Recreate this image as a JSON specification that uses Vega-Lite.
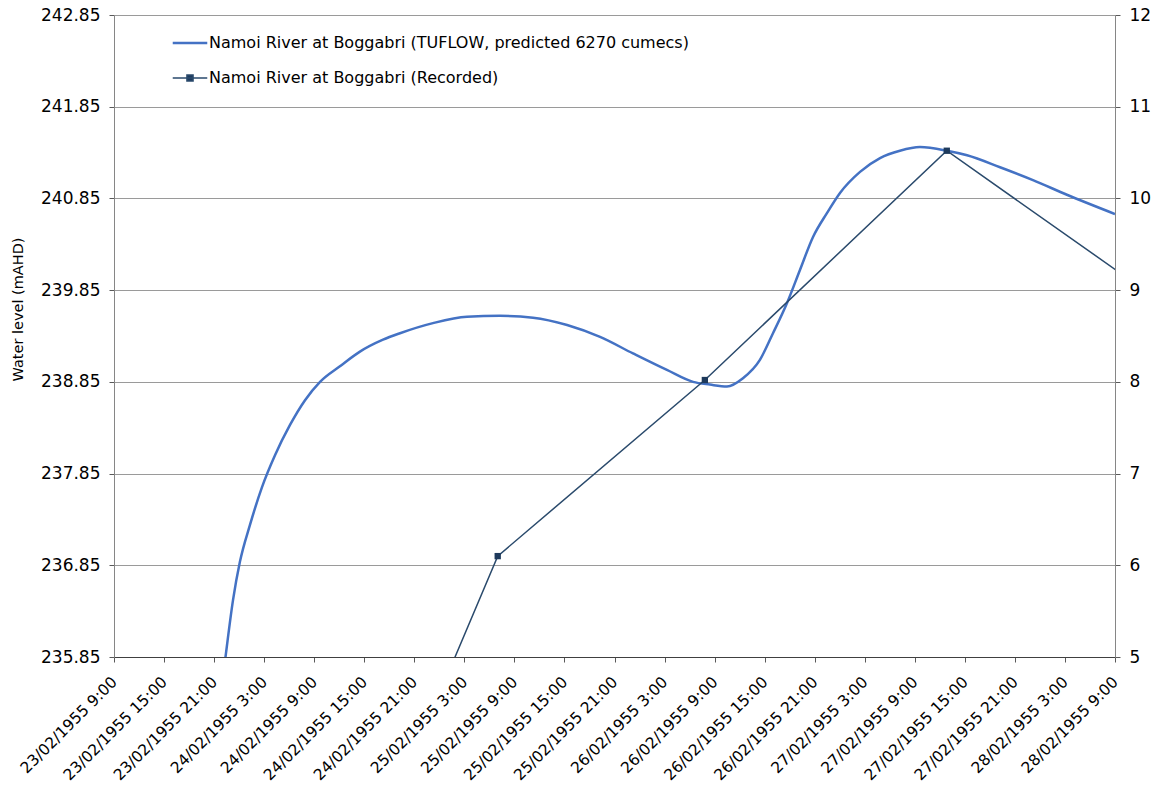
{
  "$schema": "https://vega.github.io/schema/vega-lite/v6.json",
  "width": 1001,
  "height": 642,
  "autosize": "none",
  "padding": {"left": 114, "top": 15, "right": 41, "bottom": 130},
  "background": "white",
  "config": {
    "view": {"stroke": null},
    "font": "DejaVu Sans",
    "axis": {
      "labelFont": "DejaVu Sans",
      "labelColor": "#000000",
      "titleFont": "DejaVu Sans",
      "titleFontWeight": "normal",
      "titleColor": "#000000",
      "domainColor": "#868686",
      "tickColor": "#595959",
      "tickSize": 5,
      "gridColor": "#9a9a9a"
    },
    "axisX": {"labelFontSize": 15.5},
    "axisY": {"labelFontSize": 17, "titleFontSize": 14.5, "labelPadding": 9}
  },
  "datasets": {
    "tuflow": [
      {"time": "1955-02-23T21:00", "level": 234.86, "series": "Namoi River at Boggabri (TUFLOW, predicted 6270 cumecs)"},
      {"time": "1955-02-23T22:22", "level": 235.85, "series": "Namoi River at Boggabri (TUFLOW, predicted 6270 cumecs)"},
      {"time": "1955-02-23T23:16", "level": 236.47, "series": "Namoi River at Boggabri (TUFLOW, predicted 6270 cumecs)"},
      {"time": "1955-02-24T00:06", "level": 236.89, "series": "Namoi River at Boggabri (TUFLOW, predicted 6270 cumecs)"},
      {"time": "1955-02-24T01:18", "level": 237.29, "series": "Namoi River at Boggabri (TUFLOW, predicted 6270 cumecs)"},
      {"time": "1955-02-24T02:44", "level": 237.70, "series": "Namoi River at Boggabri (TUFLOW, predicted 6270 cumecs)"},
      {"time": "1955-02-24T04:18", "level": 238.05, "series": "Namoi River at Boggabri (TUFLOW, predicted 6270 cumecs)"},
      {"time": "1955-02-24T06:06", "level": 238.38, "series": "Namoi River at Boggabri (TUFLOW, predicted 6270 cumecs)"},
      {"time": "1955-02-24T07:54", "level": 238.65, "series": "Namoi River at Boggabri (TUFLOW, predicted 6270 cumecs)"},
      {"time": "1955-02-24T09:42", "level": 238.85, "series": "Namoi River at Boggabri (TUFLOW, predicted 6270 cumecs)"},
      {"time": "1955-02-24T12:05", "level": 239.02, "series": "Namoi River at Boggabri (TUFLOW, predicted 6270 cumecs)"},
      {"time": "1955-02-24T14:29", "level": 239.18, "series": "Namoi River at Boggabri (TUFLOW, predicted 6270 cumecs)"},
      {"time": "1955-02-24T17:15", "level": 239.31, "series": "Namoi River at Boggabri (TUFLOW, predicted 6270 cumecs)"},
      {"time": "1955-02-24T19:17", "level": 239.38, "series": "Namoi River at Boggabri (TUFLOW, predicted 6270 cumecs)"},
      {"time": "1955-02-24T23:14", "level": 239.49, "series": "Namoi River at Boggabri (TUFLOW, predicted 6270 cumecs)"},
      {"time": "1955-02-25T03:19", "level": 239.56, "series": "Namoi River at Boggabri (TUFLOW, predicted 6270 cumecs)"},
      {"time": "1955-02-25T07:16", "level": 239.57, "series": "Namoi River at Boggabri (TUFLOW, predicted 6270 cumecs)"},
      {"time": "1955-02-25T11:14", "level": 239.55, "series": "Namoi River at Boggabri (TUFLOW, predicted 6270 cumecs)"},
      {"time": "1955-02-25T15:19", "level": 239.47, "series": "Namoi River at Boggabri (TUFLOW, predicted 6270 cumecs)"},
      {"time": "1955-02-25T19:16", "level": 239.34, "series": "Namoi River at Boggabri (TUFLOW, predicted 6270 cumecs)"},
      {"time": "1955-02-25T23:13", "level": 239.16, "series": "Namoi River at Boggabri (TUFLOW, predicted 6270 cumecs)"},
      {"time": "1955-02-26T03:17", "level": 238.98, "series": "Namoi River at Boggabri (TUFLOW, predicted 6270 cumecs)"},
      {"time": "1955-02-26T06:25", "level": 238.85, "series": "Namoi River at Boggabri (TUFLOW, predicted 6270 cumecs)"},
      {"time": "1955-02-26T08:27", "level": 238.82, "series": "Namoi River at Boggabri (TUFLOW, predicted 6270 cumecs)"},
      {"time": "1955-02-26T10:29", "level": 238.80, "series": "Namoi River at Boggabri (TUFLOW, predicted 6270 cumecs)"},
      {"time": "1955-02-26T12:24", "level": 238.89, "series": "Namoi River at Boggabri (TUFLOW, predicted 6270 cumecs)"},
      {"time": "1955-02-26T14:26", "level": 239.09, "series": "Namoi River at Boggabri (TUFLOW, predicted 6270 cumecs)"},
      {"time": "1955-02-26T16:00", "level": 239.38, "series": "Namoi River at Boggabri (TUFLOW, predicted 6270 cumecs)"},
      {"time": "1955-02-26T17:41", "level": 239.71, "series": "Namoi River at Boggabri (TUFLOW, predicted 6270 cumecs)"},
      {"time": "1955-02-26T19:14", "level": 240.07, "series": "Namoi River at Boggabri (TUFLOW, predicted 6270 cumecs)"},
      {"time": "1955-02-26T20:48", "level": 240.43, "series": "Namoi River at Boggabri (TUFLOW, predicted 6270 cumecs)"},
      {"time": "1955-02-26T22:28", "level": 240.69, "series": "Namoi River at Boggabri (TUFLOW, predicted 6270 cumecs)"},
      {"time": "1955-02-27T00:02", "level": 240.91, "series": "Namoi River at Boggabri (TUFLOW, predicted 6270 cumecs)"},
      {"time": "1955-02-27T02:26", "level": 241.14, "series": "Namoi River at Boggabri (TUFLOW, predicted 6270 cumecs)"},
      {"time": "1955-02-27T04:50", "level": 241.29, "series": "Namoi River at Boggabri (TUFLOW, predicted 6270 cumecs)"},
      {"time": "1955-02-27T07:13", "level": 241.37, "series": "Namoi River at Boggabri (TUFLOW, predicted 6270 cumecs)"},
      {"time": "1955-02-27T09:37", "level": 241.41, "series": "Namoi River at Boggabri (TUFLOW, predicted 6270 cumecs)"},
      {"time": "1955-02-27T12:52", "level": 241.37, "series": "Namoi River at Boggabri (TUFLOW, predicted 6270 cumecs)"},
      {"time": "1955-02-27T15:16", "level": 241.32, "series": "Namoi River at Boggabri (TUFLOW, predicted 6270 cumecs)"},
      {"time": "1955-02-27T19:13", "level": 241.19, "series": "Namoi River at Boggabri (TUFLOW, predicted 6270 cumecs)"},
      {"time": "1955-02-27T23:10", "level": 241.05, "series": "Namoi River at Boggabri (TUFLOW, predicted 6270 cumecs)"},
      {"time": "1955-02-28T03:14", "level": 240.89, "series": "Namoi River at Boggabri (TUFLOW, predicted 6270 cumecs)"},
      {"time": "1955-02-28T09:00", "level": 240.68, "series": "Namoi River at Boggabri (TUFLOW, predicted 6270 cumecs)"}
    ],
    "recorded": [
      {"time": "1955-02-24T07:00", "gauge": 0.94, "series": "Namoi River at Boggabri (Recorded)"},
      {"time": "1955-02-25T07:00", "gauge": 6.10, "series": "Namoi River at Boggabri (Recorded)"},
      {"time": "1955-02-26T07:50", "gauge": 8.02, "series": "Namoi River at Boggabri (Recorded)"},
      {"time": "1955-02-27T12:50", "gauge": 10.52, "series": "Namoi River at Boggabri (Recorded)"},
      {"time": "1955-02-28T13:00", "gauge": 8.97, "series": "Namoi River at Boggabri (Recorded)"}
    ]
  },
  "encoding": {
    "x": {
      "field": "time",
      "type": "temporal",
      "title": null,
      "scale": {
        "domain": [
          {"year": 1955, "month": 2, "date": 23, "hours": 9},
          {"year": 1955, "month": 2, "date": 28, "hours": 9}
        ]
      },
      "axis": {
        "values": [
          {"year": 1955, "month": 2, "date": 23, "hours": 9},
          {"year": 1955, "month": 2, "date": 23, "hours": 15},
          {"year": 1955, "month": 2, "date": 23, "hours": 21},
          {"year": 1955, "month": 2, "date": 24, "hours": 3},
          {"year": 1955, "month": 2, "date": 24, "hours": 9},
          {"year": 1955, "month": 2, "date": 24, "hours": 15},
          {"year": 1955, "month": 2, "date": 24, "hours": 21},
          {"year": 1955, "month": 2, "date": 25, "hours": 3},
          {"year": 1955, "month": 2, "date": 25, "hours": 9},
          {"year": 1955, "month": 2, "date": 25, "hours": 15},
          {"year": 1955, "month": 2, "date": 25, "hours": 21},
          {"year": 1955, "month": 2, "date": 26, "hours": 3},
          {"year": 1955, "month": 2, "date": 26, "hours": 9},
          {"year": 1955, "month": 2, "date": 26, "hours": 15},
          {"year": 1955, "month": 2, "date": 26, "hours": 21},
          {"year": 1955, "month": 2, "date": 27, "hours": 3},
          {"year": 1955, "month": 2, "date": 27, "hours": 9},
          {"year": 1955, "month": 2, "date": 27, "hours": 15},
          {"year": 1955, "month": 2, "date": 27, "hours": 21},
          {"year": 1955, "month": 2, "date": 28, "hours": 3},
          {"year": 1955, "month": 2, "date": 28, "hours": 9}
        ],
        "format": "%d/%m/%Y %-H:%M",
        "labelAngle": -45,
        "labelAlign": "right",
        "labelBaseline": "middle",
        "labelPadding": 17,
        "labelOverlap": false,
        "labelFlush": false,
        "grid": false,
        "domainColor": "#404040"
      }
    }
  },
  "layer": [
    {
      "data": {"name": "tuflow"},
      "mark": {"type": "line", "interpolate": "monotone", "strokeWidth": 2.5, "clip": true},
      "encoding": {
        "y": {
          "field": "level",
          "type": "quantitative",
          "title": "Water level (mAHD)",
          "scale": {"domain": [235.85, 242.85], "nice": false, "zero": false},
          "axis": {
            "values": [235.85, 236.85, 237.85, 238.85, 239.85, 240.85, 241.85, 242.85],
            "format": ".2f",
            "grid": true,
            "titleX": -96,
            "titleY": 294,
            "titleAlign": "center",
            "titleBaseline": "middle",
            "titleAngle": -90
          }
        },
        "color": {
          "field": "series",
          "type": "nominal",
          "scale": {
            "domain": ["Namoi River at Boggabri (TUFLOW, predicted 6270 cumecs)", "Namoi River at Boggabri (Recorded)"],
            "range": ["#4472C4", "#2a4a6c"]
          },
          "legend": {
            "title": null,
            "orient": "none",
            "legendX": 68,
            "legendY": 20,
            "padding": 0,
            "labelFont": "DejaVu Sans",
            "labelFontSize": 16,
            "labelColor": "#000000",
            "labelLimit": 0,
            "labelOffset": 11,
            "rowPadding": 19,
            "symbolSize": 1650,
            "symbolType": "M-0.85,0H0.85",
            "encode": {
              "symbols": {
                "update": {
                  "shape": {"signal": "datum.value === 'Namoi River at Boggabri (Recorded)' ? 'M-0.85,0H0.85M-0.15,-0.15H0.15V0.15H-0.15Z' : 'M-0.85,0H0.85'"},
                  "fill": {"signal": "datum.value === 'Namoi River at Boggabri (Recorded)' ? '#1e3a5c' : 'transparent'"},
                  "strokeWidth": {"signal": "datum.value === 'Namoi River at Boggabri (Recorded)' ? 1.5 : 2.5"}
                }
              }
            }
          }
        }
      }
    },
    {
      "data": {"name": "recorded"},
      "layer": [
        {
          "mark": {"type": "line", "strokeWidth": 1.5, "clip": true},
          "encoding": {
            "y": {
              "field": "gauge",
              "type": "quantitative",
              "title": null,
              "scale": {"domain": [5, 12], "nice": false, "zero": false},
              "axis": {
                "orient": "right",
                "values": [5, 6, 7, 8, 9, 10, 11, 12],
                "format": "d",
                "grid": false
              }
            },
            "color": {"field": "series", "type": "nominal", "legend": null}
          }
        },
        {
          "mark": {"type": "point", "shape": "square", "filled": true, "size": 40, "opacity": 1, "color": "#1e3a5c", "clip": true},
          "encoding": {
            "y": {"field": "gauge", "type": "quantitative"}
          }
        }
      ]
    }
  ],
  "resolve": {"scale": {"y": "independent"}}
}
